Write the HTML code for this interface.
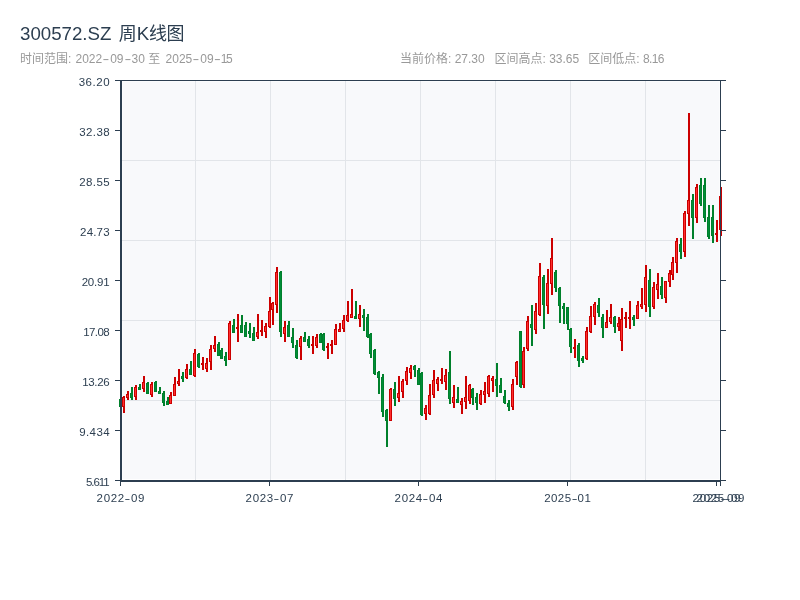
<!DOCTYPE html>
<html lang="zh"><head><meta charset="utf-8"><title>300572.SZ 周K线图</title>
<style>
html,body{margin:0;padding:0;background:#fff;}
body{width:800px;height:600px;overflow:hidden;position:relative;font-family:"Liberation Sans","Noto Sans CJK SC",sans-serif;}
.t{position:absolute;white-space:nowrap;}
.title{left:20px;top:21.6px;font-size:18px;line-height:24px;color:#2c3e50;}
.title .l{font-size:18.7px}
.sub{top:51px;font-size:12px;line-height:16px;color:#999;}
.h{display:inline-block;width:8px;text-align:center;transform:scaleX(1.7);}
svg{position:absolute;left:0;top:0}
.yl,.xl{position:absolute;font-size:11.5px;line-height:12px;color:#2c3e50;white-space:nowrap;}
.yl{right:690.5px;letter-spacing:0.3px;}
.xl{width:60px;text-align:center;top:492px;letter-spacing:0.45px}
.xl .h{width:6px;transform:scaleX(1.5)}
</style></head><body>
<div class="t title"><span class="l">300572.SZ </span><span style="margin-left:2px">周</span><span class="l">K</span>线<span style="margin-left:-0.5px">图</span></div>
<div class="t sub" style="left:20px">时间范围: <span style="margin-left:0.8px">2022</span><span class="h">-</span>09<span class="h">-</span>30 至 <span style="margin-left:2px">2025</span><span class="h">-</span>09<span class="h" style="width:7px">-</span><span style="letter-spacing:-1.2px">15</span></div>
<div class="t sub" style="left:400px">当前价格: 27.30</div>
<div class="t sub" style="left:494.5px">区间高点: 33.65</div>
<div class="t sub" style="left:588.3px">区间低点: <span style="letter-spacing:-0.6px">8.16</span></div>
<svg width="800" height="600" viewBox="0 0 800 600" shape-rendering="crispEdges">
<rect x="122.5" y="81.5" width="597" height="397.5" fill="#f8f9fb" shape-rendering="auto"/>
<path d="M195.5 81V480 M270.5 81V480 M345.5 81V480 M420.5 81V480 M495.5 81V480 M570.5 81V480 M645.5 81V480 M122 160.5H720 M122 240.5H720 M122 320.5H720 M122 400.5H720" stroke="#e2e5e9" stroke-width="1" fill="none"/>
<path d="M120 399h2v8h-2z M119 399h3v8h-3z" fill="#00802b"/><rect x="120" y="400" width="1" height="6" fill="#008d38"/>
<path d="M123 396h2v17h-2z M122 397h3v10h-3z" fill="#cc0000"/><rect x="123" y="398" width="1" height="8" fill="#ff2e2e"/>
<path d="M127 391h2v9h-2z M126 394h3v4h-3z" fill="#cc0000"/><rect x="127" y="395" width="1" height="2" fill="#ff2e2e"/>
<path d="M131 387h2v13h-2z M130 393h3v5h-3z" fill="#00802b"/><rect x="131" y="394" width="1" height="3" fill="#008d38"/>
<path d="M135 385h2v15h-2z M134 387h3v10h-3z" fill="#cc0000"/><rect x="135" y="388" width="1" height="8" fill="#ff2e2e"/>
<path d="M139 384h2v6h-2z M138 387h3v3h-3z" fill="#00802b"/><rect x="139" y="388" width="1" height="1" fill="#008d38"/>
<path d="M143 376h2v16h-2z M142 382h3v7h-3z" fill="#cc0000"/><rect x="143" y="383" width="1" height="5" fill="#ff2e2e"/>
<path d="M147 382h2v12h-2z M146 383h3v11h-3z" fill="#00802b"/><rect x="147" y="384" width="1" height="9" fill="#008d38"/>
<path d="M151 382h2v15h-2z M150 384h3v11h-3z" fill="#cc0000"/><rect x="151" y="385" width="1" height="9" fill="#ff2e2e"/>
<path d="M155 381h2v11h-2z M154 382h3v10h-3z" fill="#00802b"/><rect x="155" y="383" width="1" height="8" fill="#008d38"/>
<path d="M159 387h2v7h-2z M158 391h3v3h-3z" fill="#00802b"/><rect x="159" y="392" width="1" height="1" fill="#008d38"/>
<path d="M163 391h2v15h-2z M162 393h3v10h-3z" fill="#00802b"/><rect x="163" y="394" width="1" height="8" fill="#008d38"/>
<path d="M167 397h2v8h-2z M166 401h3v4h-3z" fill="#00802b"/><rect x="167" y="402" width="1" height="2" fill="#008d38"/>
<path d="M170 392h2v12h-2z M169 395h3v9h-3z" fill="#cc0000"/><rect x="170" y="396" width="1" height="7" fill="#ff2e2e"/>
<path d="M174 377h2v19h-2z M173 384h3v12h-3z" fill="#cc0000"/><rect x="174" y="385" width="1" height="10" fill="#ff2e2e"/>
<path d="M178 369h2v17h-2z M177 381h3v3h-3z" fill="#cc0000"/><rect x="178" y="382" width="1" height="1" fill="#ff2e2e"/>
<path d="M182 372h2v10h-2z M181 376h3v3h-3z" fill="#00802b"/><rect x="182" y="377" width="1" height="1" fill="#008d38"/>
<path d="M186 364h2v15h-2z M185 369h3v9h-3z" fill="#cc0000"/><rect x="186" y="370" width="1" height="7" fill="#ff2e2e"/>
<path d="M190 361h2v14h-2z M189 369h3v6h-3z" fill="#00802b"/><rect x="190" y="370" width="1" height="4" fill="#008d38"/>
<path d="M194 349h2v28h-2z M193 353h3v23h-3z" fill="#cc0000"/><rect x="194" y="354" width="1" height="21" fill="#ff2e2e"/>
<path d="M198 353h2v15h-2z M197 354h3v13h-3z" fill="#00802b"/><rect x="198" y="355" width="1" height="11" fill="#008d38"/>
<path d="M202 357h2v13h-2z M201 363h3v2h-3z" fill="#cc0000"/>
<path d="M206 358h2v14h-2z M205 363h3v6h-3z" fill="#cc0000"/><rect x="206" y="364" width="1" height="4" fill="#ff2e2e"/>
<path d="M210 345h2v25h-2z M209 349h3v13h-3z" fill="#cc0000"/><rect x="210" y="350" width="1" height="11" fill="#ff2e2e"/>
<path d="M214 336h2v16h-2z M213 345h3v4h-3z" fill="#cc0000"/><rect x="214" y="346" width="1" height="2" fill="#ff2e2e"/>
<path d="M218 342h2v14h-2z M217 344h3v12h-3z" fill="#00802b"/><rect x="218" y="345" width="1" height="10" fill="#008d38"/>
<path d="M221 348h2v11h-2z M220 350h3v9h-3z" fill="#00802b"/><rect x="221" y="351" width="1" height="7" fill="#008d38"/>
<path d="M225 352h2v14h-2z M224 356h3v5h-3z" fill="#00802b"/><rect x="225" y="357" width="1" height="3" fill="#008d38"/>
<path d="M229 321h2v39h-2z M228 323h3v37h-3z" fill="#cc0000"/><rect x="229" y="324" width="1" height="35" fill="#ff2e2e"/>
<path d="M233 319h2v14h-2z M232 325h3v8h-3z" fill="#00802b"/><rect x="233" y="326" width="1" height="6" fill="#008d38"/>
<path d="M237 314h2v28h-2z M236 327h3v2h-3z" fill="#cc0000"/>
<path d="M241 315h2v18h-2z M240 325h3v8h-3z" fill="#00802b"/><rect x="241" y="326" width="1" height="6" fill="#008d38"/>
<path d="M245 322h2v15h-2z M244 325h3v12h-3z" fill="#00802b"/><rect x="245" y="326" width="1" height="10" fill="#008d38"/>
<path d="M249 323h2v15h-2z M248 331h3v3h-3z" fill="#00802b"/><rect x="249" y="332" width="1" height="1" fill="#008d38"/>
<path d="M253 327h2v14h-2z M252 333h3v8h-3z" fill="#00802b"/><rect x="253" y="334" width="1" height="6" fill="#008d38"/>
<path d="M257 314h2v25h-2z M256 332h3v5h-3z" fill="#cc0000"/><rect x="257" y="333" width="1" height="3" fill="#ff2e2e"/>
<path d="M261 320h2v16h-2z M260 330h3v2h-3z" fill="#cc0000"/>
<path d="M265 323h2v15h-2z M264 326h3v6h-3z" fill="#cc0000"/><rect x="265" y="327" width="1" height="4" fill="#ff2e2e"/>
<path d="M269 297h2v31h-2z M268 311h3v16h-3z" fill="#cc0000"/><rect x="269" y="312" width="1" height="14" fill="#ff2e2e"/>
<path d="M272 302h2v23h-2z M271 303h3v7h-3z" fill="#cc0000"/><rect x="272" y="304" width="1" height="5" fill="#ff2e2e"/>
<path d="M276 267h2v46h-2z M275 272h3v33h-3z" fill="#cc0000"/><rect x="276" y="273" width="1" height="31" fill="#ff2e2e"/>
<path d="M280 271h2v66h-2z M279 272h3v60h-3z" fill="#00802b"/><rect x="280" y="273" width="1" height="58" fill="#008d38"/>
<path d="M284 321h2v21h-2z M283 327h3v7h-3z" fill="#cc0000"/><rect x="284" y="328" width="1" height="5" fill="#ff2e2e"/>
<path d="M288 321h2v16h-2z M287 325h3v12h-3z" fill="#00802b"/><rect x="288" y="326" width="1" height="10" fill="#008d38"/>
<path d="M292 328h2v20h-2z M291 337h3v6h-3z" fill="#00802b"/><rect x="292" y="338" width="1" height="4" fill="#008d38"/>
<path d="M296 340h2v19h-2z M295 345h3v13h-3z" fill="#00802b"/><rect x="296" y="346" width="1" height="11" fill="#008d38"/>
<path d="M300 336h2v24h-2z M299 338h3v9h-3z" fill="#cc0000"/><rect x="300" y="339" width="1" height="7" fill="#ff2e2e"/>
<path d="M304 332h2v10h-2z M303 337h3v5h-3z" fill="#00802b"/><rect x="304" y="338" width="1" height="3" fill="#008d38"/>
<path d="M308 336h2v12h-2z M307 339h3v7h-3z" fill="#00802b"/><rect x="308" y="340" width="1" height="5" fill="#008d38"/>
<path d="M312 336h2v18h-2z M311 344h3v2h-3z" fill="#cc0000"/>
<path d="M316 334h2v14h-2z M315 337h3v9h-3z" fill="#cc0000"/><rect x="316" y="338" width="1" height="7" fill="#ff2e2e"/>
<path d="M320 333h2v10h-2z M319 334h3v9h-3z" fill="#00802b"/><rect x="320" y="335" width="1" height="7" fill="#008d38"/>
<path d="M323 333h2v18h-2z M322 334h3v16h-3z" fill="#00802b"/><rect x="323" y="335" width="1" height="14" fill="#008d38"/>
<path d="M327 343h2v16h-2z M326 346h3v2h-3z" fill="#cc0000"/>
<path d="M331 340h2v14h-2z M330 344h3v2h-3z" fill="#cc0000"/>
<path d="M335 324h2v21h-2z M334 329h3v16h-3z" fill="#cc0000"/><rect x="335" y="330" width="1" height="14" fill="#ff2e2e"/>
<path d="M339 323h2v9h-2z M338 329h3v3h-3z" fill="#cc0000"/><rect x="339" y="330" width="1" height="1" fill="#ff2e2e"/>
<path d="M343 315h2v17h-2z M342 320h3v9h-3z" fill="#cc0000"/><rect x="343" y="321" width="1" height="7" fill="#ff2e2e"/>
<path d="M347 301h2v21h-2z M346 315h3v6h-3z" fill="#cc0000"/><rect x="347" y="316" width="1" height="4" fill="#ff2e2e"/>
<path d="M351 289h2v29h-2z M350 314h3v4h-3z" fill="#cc0000"/><rect x="351" y="315" width="1" height="2" fill="#ff2e2e"/>
<path d="M355 301h2v18h-2z M354 316h3v3h-3z" fill="#00802b"/><rect x="355" y="317" width="1" height="1" fill="#008d38"/>
<path d="M359 305h2v22h-2z M358 314h3v5h-3z" fill="#cc0000"/><rect x="359" y="315" width="1" height="3" fill="#ff2e2e"/>
<path d="M363 309h2v22h-2z M362 315h3v3h-3z" fill="#00802b"/><rect x="363" y="316" width="1" height="1" fill="#008d38"/>
<path d="M367 314h2v24h-2z M366 317h3v20h-3z" fill="#00802b"/><rect x="367" y="318" width="1" height="18" fill="#008d38"/>
<path d="M370 333h2v25h-2z M369 334h3v20h-3z" fill="#00802b"/><rect x="370" y="335" width="1" height="18" fill="#008d38"/>
<path d="M374 349h2v26h-2z M373 350h3v24h-3z" fill="#00802b"/><rect x="374" y="351" width="1" height="22" fill="#008d38"/>
<path d="M378 371h2v23h-2z M377 372h3v6h-3z" fill="#00802b"/><rect x="378" y="373" width="1" height="4" fill="#008d38"/>
<path d="M382 374h2v43h-2z M381 377h3v35h-3z" fill="#00802b"/><rect x="382" y="378" width="1" height="33" fill="#008d38"/>
<path d="M386 409h2v38h-2z M385 410h3v11h-3z" fill="#00802b"/><rect x="386" y="411" width="1" height="9" fill="#008d38"/>
<path d="M390 388h2v33h-2z M389 389h3v32h-3z" fill="#cc0000"/><rect x="390" y="390" width="1" height="30" fill="#ff2e2e"/>
<path d="M394 382h2v24h-2z M393 389h3v10h-3z" fill="#00802b"/><rect x="394" y="390" width="1" height="8" fill="#008d38"/>
<path d="M398 376h2v26h-2z M397 393h3v5h-3z" fill="#cc0000"/><rect x="398" y="394" width="1" height="3" fill="#ff2e2e"/>
<path d="M402 379h2v19h-2z M401 381h3v11h-3z" fill="#cc0000"/><rect x="402" y="382" width="1" height="9" fill="#ff2e2e"/>
<path d="M406 367h2v18h-2z M405 371h3v10h-3z" fill="#cc0000"/><rect x="406" y="372" width="1" height="8" fill="#ff2e2e"/>
<path d="M410 365h2v14h-2z M409 368h3v5h-3z" fill="#cc0000"/><rect x="410" y="369" width="1" height="3" fill="#ff2e2e"/>
<path d="M414 365h2v12h-2z M413 366h3v4h-3z" fill="#00802b"/><rect x="414" y="367" width="1" height="2" fill="#008d38"/>
<path d="M418 368h2v17h-2z M417 370h3v15h-3z" fill="#00802b"/><rect x="418" y="371" width="1" height="13" fill="#008d38"/>
<path d="M421 372h2v44h-2z M420 373h3v42h-3z" fill="#00802b"/><rect x="421" y="374" width="1" height="40" fill="#008d38"/>
<path d="M425 405h2v15h-2z M424 408h3v6h-3z" fill="#cc0000"/><rect x="425" y="409" width="1" height="4" fill="#ff2e2e"/>
<path d="M429 384h2v31h-2z M428 395h3v19h-3z" fill="#cc0000"/><rect x="429" y="396" width="1" height="17" fill="#ff2e2e"/>
<path d="M433 370h2v28h-2z M432 380h3v15h-3z" fill="#cc0000"/><rect x="433" y="381" width="1" height="13" fill="#ff2e2e"/>
<path d="M437 377h2v14h-2z M436 379h3v5h-3z" fill="#cc0000"/><rect x="437" y="380" width="1" height="3" fill="#ff2e2e"/>
<path d="M441 368h2v16h-2z M440 379h3v2h-3z" fill="#cc0000"/>
<path d="M445 369h2v21h-2z M444 375h3v7h-3z" fill="#cc0000"/><rect x="445" y="376" width="1" height="5" fill="#ff2e2e"/>
<path d="M449 351h2v53h-2z M448 372h3v27h-3z" fill="#00802b"/><rect x="449" y="373" width="1" height="25" fill="#008d38"/>
<path d="M453 385h2v23h-2z M452 397h3v6h-3z" fill="#cc0000"/><rect x="453" y="398" width="1" height="4" fill="#ff2e2e"/>
<path d="M457 387h2v16h-2z M456 399h3v4h-3z" fill="#00802b"/><rect x="457" y="400" width="1" height="2" fill="#008d38"/>
<path d="M461 398h2v16h-2z M460 401h3v4h-3z" fill="#cc0000"/><rect x="461" y="402" width="1" height="2" fill="#ff2e2e"/>
<path d="M465 376h2v33h-2z M464 397h3v5h-3z" fill="#cc0000"/><rect x="465" y="398" width="1" height="3" fill="#ff2e2e"/>
<path d="M469 384h2v20h-2z M468 385h3v16h-3z" fill="#cc0000"/><rect x="469" y="386" width="1" height="14" fill="#ff2e2e"/>
<path d="M472 388h2v17h-2z M471 389h3v9h-3z" fill="#00802b"/><rect x="472" y="390" width="1" height="7" fill="#008d38"/>
<path d="M476 393h2v17h-2z M475 397h3v6h-3z" fill="#00802b"/><rect x="476" y="398" width="1" height="4" fill="#008d38"/>
<path d="M480 390h2v15h-2z M479 394h3v10h-3z" fill="#cc0000"/><rect x="480" y="395" width="1" height="8" fill="#ff2e2e"/>
<path d="M484 382h2v21h-2z M483 391h3v4h-3z" fill="#cc0000"/><rect x="484" y="392" width="1" height="2" fill="#ff2e2e"/>
<path d="M488 375h2v22h-2z M487 376h3v18h-3z" fill="#cc0000"/><rect x="488" y="377" width="1" height="16" fill="#ff2e2e"/>
<path d="M492 376h2v16h-2z M491 378h3v3h-3z" fill="#cc0000"/><rect x="492" y="379" width="1" height="1" fill="#ff2e2e"/>
<path d="M496 363h2v34h-2z M495 379h3v7h-3z" fill="#00802b"/><rect x="496" y="380" width="1" height="5" fill="#008d38"/>
<path d="M500 378h2v15h-2z M499 385h3v8h-3z" fill="#00802b"/><rect x="500" y="386" width="1" height="6" fill="#008d38"/>
<path d="M504 390h2v14h-2z M503 396h3v7h-3z" fill="#00802b"/><rect x="504" y="397" width="1" height="5" fill="#008d38"/>
<path d="M508 400h2v11h-2z M507 403h3v4h-3z" fill="#00802b"/><rect x="508" y="404" width="1" height="2" fill="#008d38"/>
<path d="M512 379h2v31h-2z M511 384h3v23h-3z" fill="#cc0000"/><rect x="512" y="385" width="1" height="21" fill="#ff2e2e"/>
<path d="M516 361h2v24h-2z M515 362h3v15h-3z" fill="#cc0000"/><rect x="516" y="363" width="1" height="13" fill="#ff2e2e"/>
<path d="M520 331h2v57h-2z M519 331h3v56h-3z" fill="#00802b"/><rect x="520" y="332" width="1" height="54" fill="#008d38"/>
<path d="M523 347h2v41h-2z M522 351h3v34h-3z" fill="#cc0000"/><rect x="523" y="352" width="1" height="32" fill="#ff2e2e"/>
<path d="M527 316h2v35h-2z M526 321h3v28h-3z" fill="#cc0000"/><rect x="527" y="322" width="1" height="26" fill="#ff2e2e"/>
<path d="M531 305h2v41h-2z M530 324h3v4h-3z" fill="#00802b"/><rect x="531" y="325" width="1" height="2" fill="#008d38"/>
<path d="M535 303h2v31h-2z M534 311h3v19h-3z" fill="#cc0000"/><rect x="535" y="312" width="1" height="17" fill="#ff2e2e"/>
<path d="M539 263h2v53h-2z M538 276h3v39h-3z" fill="#cc0000"/><rect x="539" y="277" width="1" height="37" fill="#ff2e2e"/>
<path d="M543 275h2v54h-2z M542 277h3v28h-3z" fill="#00802b"/><rect x="543" y="278" width="1" height="26" fill="#008d38"/>
<path d="M547 269h2v45h-2z M546 283h3v23h-3z" fill="#cc0000"/><rect x="547" y="284" width="1" height="21" fill="#ff2e2e"/>
<path d="M551 238h2v57h-2z M550 258h3v26h-3z" fill="#cc0000"/><rect x="551" y="259" width="1" height="24" fill="#ff2e2e"/>
<path d="M555 270h2v22h-2z M554 272h3v16h-3z" fill="#00802b"/><rect x="555" y="273" width="1" height="14" fill="#008d38"/>
<path d="M559 287h2v36h-2z M558 288h3v18h-3z" fill="#00802b"/><rect x="559" y="289" width="1" height="16" fill="#008d38"/>
<path d="M563 303h2v21h-2z M562 306h3v3h-3z" fill="#00802b"/><rect x="563" y="307" width="1" height="1" fill="#008d38"/>
<path d="M567 307h2v23h-2z M566 307h3v17h-3z" fill="#00802b"/><rect x="567" y="308" width="1" height="15" fill="#008d38"/>
<path d="M570 328h2v25h-2z M569 329h3v18h-3z" fill="#00802b"/><rect x="570" y="330" width="1" height="16" fill="#008d38"/>
<path d="M574 339h2v19h-2z M573 347h3v2h-3z" fill="#cc0000"/>
<path d="M578 343h2v24h-2z M577 345h3v16h-3z" fill="#00802b"/><rect x="578" y="346" width="1" height="14" fill="#008d38"/>
<path d="M582 356h2v7h-2z M581 358h3v3h-3z" fill="#00802b"/><rect x="582" y="359" width="1" height="1" fill="#008d38"/>
<path d="M586 327h2v33h-2z M585 331h3v28h-3z" fill="#cc0000"/><rect x="586" y="332" width="1" height="26" fill="#ff2e2e"/>
<path d="M590 306h2v27h-2z M589 316h3v16h-3z" fill="#cc0000"/><rect x="590" y="317" width="1" height="14" fill="#ff2e2e"/>
<path d="M594 302h2v23h-2z M593 304h3v13h-3z" fill="#cc0000"/><rect x="594" y="305" width="1" height="11" fill="#ff2e2e"/>
<path d="M598 298h2v19h-2z M597 305h3v8h-3z" fill="#00802b"/><rect x="598" y="306" width="1" height="6" fill="#008d38"/>
<path d="M602 314h2v24h-2z M601 317h3v11h-3z" fill="#00802b"/><rect x="602" y="318" width="1" height="9" fill="#008d38"/>
<path d="M606 310h2v18h-2z M605 322h3v6h-3z" fill="#cc0000"/><rect x="606" y="323" width="1" height="4" fill="#ff2e2e"/>
<path d="M610 304h2v20h-2z M609 317h3v5h-3z" fill="#cc0000"/><rect x="610" y="318" width="1" height="3" fill="#ff2e2e"/>
<path d="M614 316h2v17h-2z M613 317h3v10h-3z" fill="#00802b"/><rect x="614" y="318" width="1" height="8" fill="#008d38"/>
<path d="M618 317h2v14h-2z M617 323h3v4h-3z" fill="#cc0000"/><rect x="618" y="324" width="1" height="2" fill="#ff2e2e"/>
<path d="M621 308h2v43h-2z M620 319h3v22h-3z" fill="#cc0000"/><rect x="621" y="320" width="1" height="20" fill="#ff2e2e"/>
<path d="M625 312h2v16h-2z M624 317h3v2h-3z" fill="#cc0000"/>
<path d="M629 301h2v28h-2z M628 317h3v2h-3z" fill="#cc0000"/>
<path d="M633 315h2v11h-2z M632 317h3v3h-3z" fill="#00802b"/><rect x="633" y="318" width="1" height="1" fill="#008d38"/>
<path d="M637 301h2v18h-2z M636 305h3v14h-3z" fill="#cc0000"/><rect x="637" y="306" width="1" height="12" fill="#ff2e2e"/>
<path d="M641 288h2v21h-2z M640 304h3v3h-3z" fill="#cc0000"/><rect x="641" y="305" width="1" height="1" fill="#ff2e2e"/>
<path d="M645 265h2v47h-2z M644 277h3v28h-3z" fill="#cc0000"/><rect x="645" y="278" width="1" height="26" fill="#ff2e2e"/>
<path d="M649 269h2v48h-2z M648 280h3v27h-3z" fill="#00802b"/><rect x="649" y="281" width="1" height="25" fill="#008d38"/>
<path d="M653 282h2v27h-2z M652 287h3v20h-3z" fill="#cc0000"/><rect x="653" y="288" width="1" height="18" fill="#ff2e2e"/>
<path d="M657 273h2v26h-2z M656 284h3v6h-3z" fill="#cc0000"/><rect x="657" y="285" width="1" height="4" fill="#ff2e2e"/>
<path d="M661 277h2v22h-2z M660 286h3v9h-3z" fill="#00802b"/><rect x="661" y="287" width="1" height="7" fill="#008d38"/>
<path d="M665 281h2v22h-2z M664 281h3v17h-3z" fill="#cc0000"/><rect x="665" y="282" width="1" height="15" fill="#ff2e2e"/>
<path d="M669 270h2v17h-2z M668 273h3v9h-3z" fill="#cc0000"/><rect x="669" y="274" width="1" height="7" fill="#ff2e2e"/>
<path d="M672 257h2v23h-2z M671 262h3v13h-3z" fill="#cc0000"/><rect x="672" y="263" width="1" height="11" fill="#ff2e2e"/>
<path d="M676 238h2v35h-2z M675 241h3v22h-3z" fill="#cc0000"/><rect x="676" y="242" width="1" height="20" fill="#ff2e2e"/>
<path d="M680 238h2v21h-2z M679 244h3v8h-3z" fill="#00802b"/><rect x="680" y="245" width="1" height="6" fill="#008d38"/>
<path d="M684 211h2v46h-2z M683 213h3v39h-3z" fill="#cc0000"/><rect x="684" y="214" width="1" height="37" fill="#ff2e2e"/>
<path d="M688 113h2v113h-2z M687 200h3v14h-3z" fill="#cc0000"/><rect x="688" y="201" width="1" height="12" fill="#ff2e2e"/>
<path d="M692 194h2v45h-2z M691 200h3v18h-3z" fill="#00802b"/><rect x="692" y="201" width="1" height="16" fill="#008d38"/>
<path d="M696 184h2v39h-2z M695 187h3v31h-3z" fill="#cc0000"/><rect x="696" y="188" width="1" height="29" fill="#ff2e2e"/>
<path d="M700 178h2v28h-2z M699 185h3v19h-3z" fill="#00802b"/><rect x="700" y="186" width="1" height="17" fill="#008d38"/>
<path d="M704 178h2v44h-2z M703 185h3v33h-3z" fill="#00802b"/><rect x="704" y="186" width="1" height="31" fill="#008d38"/>
<path d="M708 205h2v34h-2z M707 217h3v20h-3z" fill="#00802b"/><rect x="708" y="218" width="1" height="18" fill="#008d38"/>
<path d="M712 205h2v38h-2z M711 217h3v19h-3z" fill="#00802b"/><rect x="712" y="218" width="1" height="17" fill="#008d38"/>
<path d="M716 220h2v22h-2z M715 233h3v2h-3z" fill="#cc0000"/>
<path d="M720 187h2v49h-2z M719 196h3v34h-3z" fill="#cc0000"/><rect x="720" y="197" width="1" height="32" fill="#ff2e2e"/>
<path d="M120 80h2v402h-2z M120 480h601v2h-601z" fill="#2c3e50"/>
<path d="M115 80h611v1h-611z M720 80h1v401h-1z M720 480h6v1h-6z M115 80h6v1h-6z M115 130h6v1h-6z M720 130h6v1h-6z M115 180h6v1h-6z M720 180h6v1h-6z M115 230h6v1h-6z M720 230h6v1h-6z M115 280h6v1h-6z M720 280h6v1h-6z M115 330h6v1h-6z M720 330h6v1h-6z M115 380h6v1h-6z M720 380h6v1h-6z M115 430h6v1h-6z M720 430h6v1h-6z M115 480h6v1h-6z M120 481h1v5h-1z M269 481h1v5h-1z M418 481h1v5h-1z M567 481h1v5h-1z M716 481h1v5h-1z M720 481h1v5h-1z" fill="#2c3e50"/>
</svg>
<div class="yl" style="top:76px;letter-spacing:0.55px;right:689.85px">36.20</div>
<div class="yl" style="top:126px;letter-spacing:0.4px;right:690.00px">32.38</div>
<div class="yl" style="top:176px;letter-spacing:0.4px;right:690.00px">28.55</div>
<div class="yl" style="top:226px;letter-spacing:0.18px;right:690.22px">24.73</div>
<div class="yl" style="top:276px;letter-spacing:-0.2px;right:690.60px">20.91</div>
<div class="yl" style="top:326px;letter-spacing:-0.58px;right:690.98px">17.08</div>
<div class="yl" style="top:376px;letter-spacing:-0.35px;right:690.75px">13.26</div>
<div class="yl" style="top:426px;letter-spacing:0.4px;right:690.00px">9.434</div>
<div class="yl" style="top:476px;letter-spacing:-1.1px;right:691.50px">5.611</div>
<div class="xl" style="left:90.85px;letter-spacing:0.7px">2022<span class="h">-</span>09</div>
<div class="xl" style="left:239.85px;letter-spacing:0.7px">2023<span class="h">-</span>07</div>
<div class="xl" style="left:388.85px;letter-spacing:0.7px">2024<span class="h">-</span>04</div>
<div class="xl" style="left:537.73px;letter-spacing:0.45px">2025<span class="h">-</span>01</div>
<div class="xl" style="left:686.85px;letter-spacing:0.7px">2025<span class="h">-</span>09</div>
<div class="xl" style="left:690.85px;letter-spacing:0.7px">2025<span class="h">-</span>09</div>
</body></html>
